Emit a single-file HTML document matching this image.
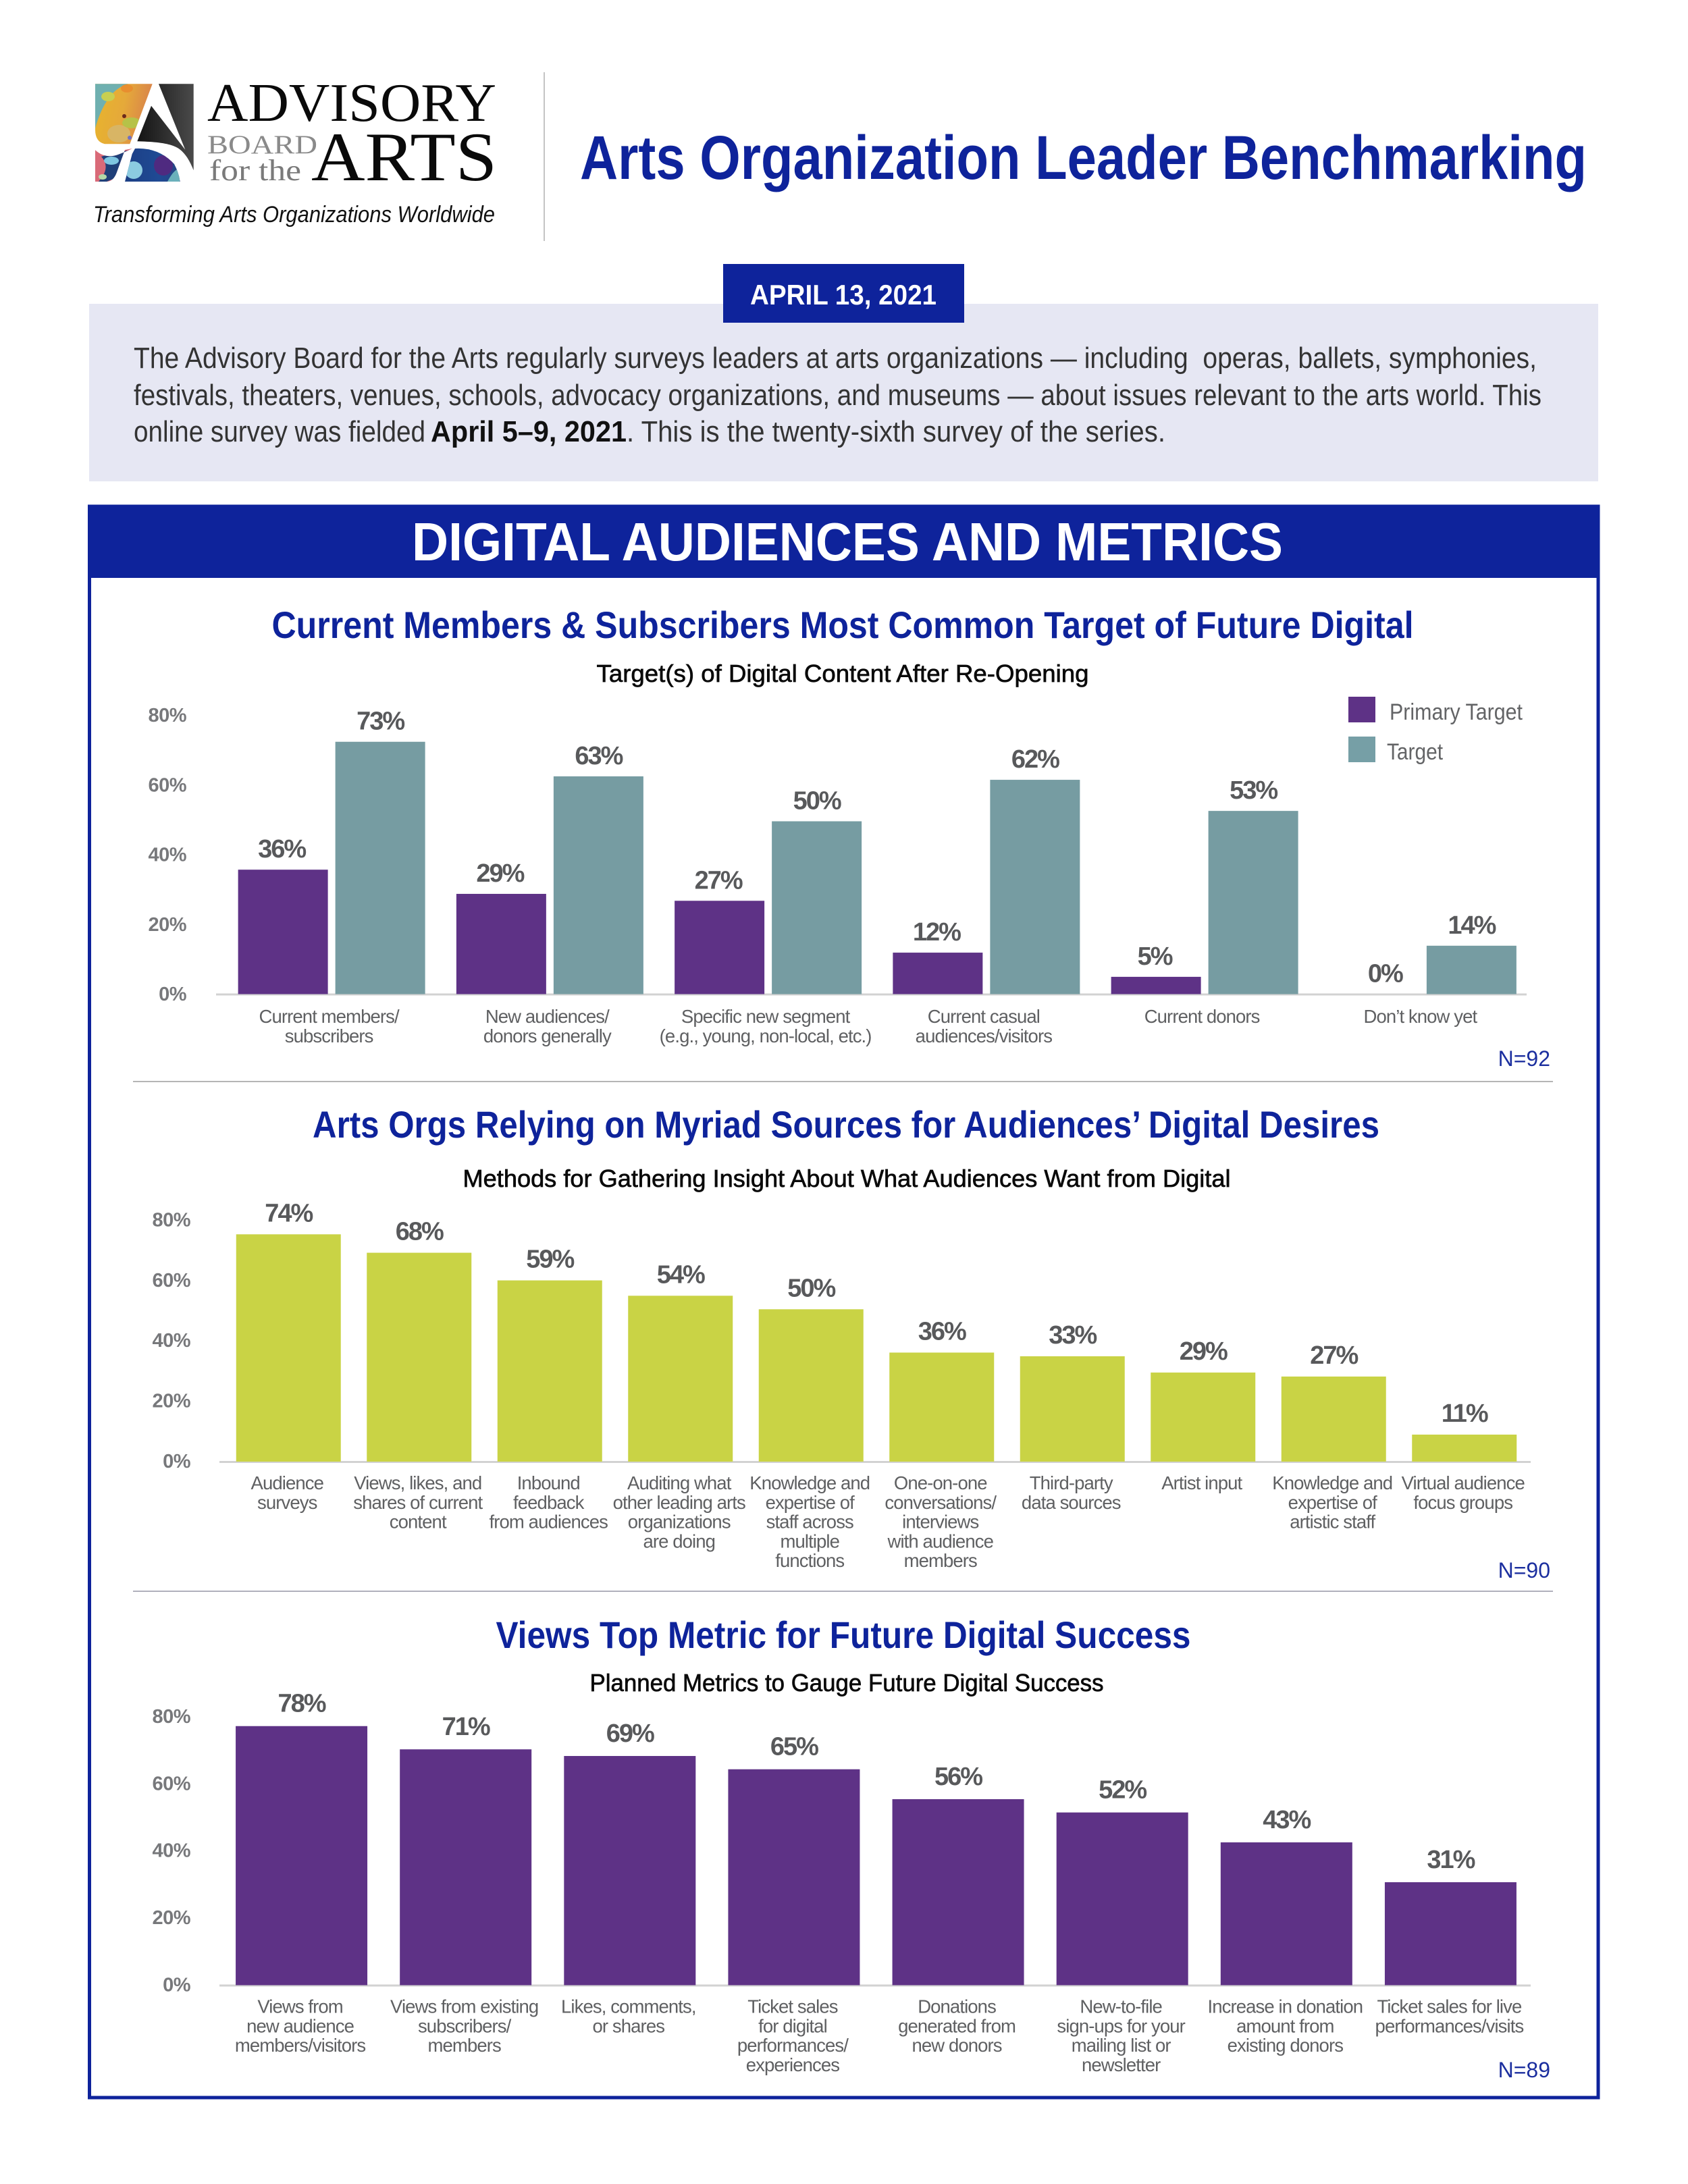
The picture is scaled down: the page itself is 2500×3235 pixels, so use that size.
<!DOCTYPE html>
<html lang="en">
<head>
<meta charset="utf-8">
<title>Arts Organization Leader Benchmarking</title>
<style>
html,body{margin:0;padding:0;background:#fff;}
svg{display:block;font-family:"Liberation Sans",sans-serif;}
.title{font-weight:700;font-size:56px;fill:#0e239b;text-anchor:middle;}
.sub{font-size:36px;fill:#0a0a0a;text-anchor:middle;stroke:#0a0a0a;stroke-width:.7px;}
.n{font-size:32px;fill:#1c2f9f;text-anchor:end;}
.para{font-size:44px;fill:#333;}
.tick{font-size:29px;font-weight:700;fill:#77787b;text-anchor:end;letter-spacing:-.5px;}
.val{font-size:38px;font-weight:700;fill:#58595b;text-anchor:middle;letter-spacing:-2px;}
.cat{font-size:27.5px;fill:#5f6062;text-anchor:middle;letter-spacing:-.9px;}
</style>
</head>
<body>
<svg id="page" xmlns="http://www.w3.org/2000/svg" width="2500" height="3235" viewBox="0 0 2500 3235">
  <defs>
    <linearGradient id="g-top" x1="0" y1="0" x2="1" y2=".2">
      <stop offset="0" stop-color="#e8b52c"/><stop offset=".55" stop-color="#e5a93a"/><stop offset="1" stop-color="#d9834a"/>
    </linearGradient>
    <linearGradient id="g-dome" x1="0" y1="0" x2="1" y2="0">
      <stop offset="0" stop-color="#1c3f85"/><stop offset=".6" stop-color="#1f4a94"/><stop offset="1" stop-color="#28427f"/>
    </linearGradient>
    <linearGradient id="g-dark" x1="1" y1="0" x2="0" y2="0">
      <stop offset="0" stop-color="#4a4a4a"/><stop offset="1" stop-color="#141414"/>
    </linearGradient>
    <clipPath id="clip-top"><path d="M141 124.3H225.7L192.3 213.3H155Q141 210 141 192Z"/></clipPath>
    <clipPath id="clip-left"><path d="M141 222.3Q156 236 175 229Q188 224 196 220L185 222L173 255Q168 269 158 269H141Z"/></clipPath>
    <clipPath id="clip-dome"><path d="M200 220Q235 218 258 243Q265 256 266.7 269H185L195.7 228Z"/></clipPath>
  </defs>

  <rect width="2500" height="3235" fill="#fff"/>

  <g>
    <g>
      <g clip-path="url(#clip-top)">
        <rect x="141" y="124" width="85" height="90" fill="url(#g-top)"/>
        <path d="M141 124H190Q170 130 158 150Q148 165 141 190Z" fill="#6fb0b0"/>
        <ellipse cx="160" cy="143" rx="10" ry="7" fill="#c9cf50"/>
        <ellipse cx="188" cy="131" rx="9" ry="6" fill="#e88e2f"/>
        <ellipse cx="176" cy="198" rx="17" ry="13" fill="#d8b565"/>
        <ellipse cx="195" cy="182" rx="14" ry="8" fill="#b6c248"/>
        <circle cx="192" cy="204" r="3" fill="#6f6fc4"/>
        <circle cx="184" cy="172" r="3" fill="#6b2a1c"/>
      </g>
      <path d="M235 124.3H286.7V252.3C281 238 275 228 266 221C254 212 230 210 203.3 209.3L224 156.7L274.3 221.7Z" fill="url(#g-dark)"/>
      <g clip-path="url(#clip-left)">
        <rect x="141" y="220" width="60" height="50" fill="#d96a78"/>
        <path d="M150 232Q168 226 196 222L175 262L158 269H146Q165 248 150 232Z" fill="#1f3f78"/>
        <ellipse cx="165" cy="238" rx="11" ry="6" fill="#7fc6e0"/>
        <ellipse cx="152" cy="262" rx="6" ry="4" fill="#b3d8a8"/>
      </g>
      <g clip-path="url(#clip-dome)">
        <rect x="185" y="216" width="84" height="54" fill="url(#g-dome)"/>
        <path d="M248 269Q258 250 266 250V269Z" fill="#6bb1bb"/>
        <ellipse cx="198" cy="252" rx="13" ry="13" fill="#8ccbe0"/>
        <ellipse cx="242" cy="245" rx="14" ry="15" fill="#4f2a80"/>
      </g>
    </g>
    <text x="307" y="179" font-family="Liberation Serif" font-size="80" fill="#0a0a0a" textLength="428" lengthAdjust="spacingAndGlyphs">ADVISORY</text>
    <text x="307" y="227" font-family="Liberation Serif" font-size="39" fill="#8a8a8a" textLength="163" lengthAdjust="spacingAndGlyphs">BOARD</text>
    <text x="310" y="267" font-family="Liberation Serif" font-size="44" fill="#7a7a7a" textLength="136" lengthAdjust="spacingAndGlyphs">for the</text>
    <text x="461" y="267" font-family="Liberation Serif" font-size="103" fill="#0a0a0a" textLength="275" lengthAdjust="spacingAndGlyphs">ARTS</text>
    <text x="138" y="329" font-size="34" font-style="italic" fill="#111" textLength="595" lengthAdjust="spacingAndGlyphs">Transforming Arts Organizations Worldwide</text>
  </g>

  <rect x="805" y="107" width="2" height="250" fill="#c4c4c4"/>
  <text x="859" y="265" font-size="92" font-weight="700" fill="#0e239b" textLength="1491" lengthAdjust="spacingAndGlyphs">Arts Organization Leader Benchmarking</text>

  <rect x="132" y="450" width="2235" height="263" fill="#e6e7f3"/>
  <rect x="1071" y="391" width="357" height="87" fill="#0e239b"/>
  <text x="1111" y="451" font-size="42" font-weight="700" fill="#fff" textLength="276" lengthAdjust="spacingAndGlyphs">APRIL 13, 2021</text>

  <g>
    <text class="para" x="198" y="545" textLength="2078" lengthAdjust="spacingAndGlyphs">The Advisory Board for the Arts regularly surveys leaders at arts organizations — including &#160;operas, ballets, symphonies,</text>
    <text class="para" x="198" y="600" textLength="2085" lengthAdjust="spacingAndGlyphs">festivals, theaters, venues, schools, advocacy organizations, and museums — about issues relevant to the arts world. This</text>
    <text class="para" x="198" y="654" textLength="432" lengthAdjust="spacingAndGlyphs">online survey was fielded</text>
    <text class="para" x="638" y="654" font-weight="700" style="fill:#111" textLength="290" lengthAdjust="spacingAndGlyphs">April 5–9, 2021</text>
    <text class="para" x="928" y="654" textLength="798" lengthAdjust="spacingAndGlyphs">. This is the twenty-sixth survey of the series.</text>
  </g>

  <rect x="132.5" y="750" width="2234.5" height="2357" fill="#fff" stroke="#0e239b" stroke-width="5"/>
  <rect x="132" y="749" width="2236" height="107" fill="#0e239b"/>
  <text x="610" y="830" font-size="80" font-weight="700" fill="#fff" textLength="1290" lengthAdjust="spacingAndGlyphs">DIGITAL AUDIENCES AND METRICS</text>

  <text class="title" x="1248" y="945" textLength="1691" lengthAdjust="spacingAndGlyphs">Current Members &amp; Subscribers Most Common Target of Future Digital</text>
  <text class="sub" x="1248" y="1010" textLength="729" lengthAdjust="spacingAndGlyphs">Target(s) of Digital Content After Re-Opening</text>
  <g>
    <rect x="1997" y="1032" width="40" height="38" fill="#5e3286"/>
    <text x="2058" y="1066" font-size="34" fill="#636466" textLength="197" lengthAdjust="spacingAndGlyphs">Primary Target</text>
    <rect x="1997" y="1091" width="40" height="38" fill="#769fa6"/>
    <text x="2054" y="1125" font-size="34" fill="#636466" textLength="83" lengthAdjust="spacingAndGlyphs">Target</text>
  </g>
  <g id="chart1"></g>
  <text class="n" x="2296" y="1579">N=92</text>
  <rect x="197" y="1601" width="2103" height="2" fill="#b5b5b5"/>

  <text class="title" x="1253" y="1685" textLength="1580" lengthAdjust="spacingAndGlyphs">Arts Orgs Relying on Myriad Sources for Audiences’ Digital Desires</text>
  <text class="sub" x="1254" y="1758" textLength="1137" lengthAdjust="spacingAndGlyphs">Methods for Gathering Insight About What Audiences Want from Digital</text>
  <g id="chart2"></g>
  <text class="n" x="2296" y="2337">N=90</text>
  <rect x="197" y="2356" width="2103" height="2" fill="#b0b0bc"/>

  <text class="title" x="1249" y="2441" textLength="1029" lengthAdjust="spacingAndGlyphs">Views Top Metric for Future Digital Success</text>
  <text class="sub" x="1254" y="2505" textLength="761" lengthAdjust="spacingAndGlyphs">Planned Metrics to Gauge Future Digital Success</text>
  <g id="chart3"></g>
  <text class="n" x="2296" y="3077">N=89</text>
</svg>

<script>
// Shared y-axis ticks
const tickValues = [0, 20, 40, 60, 80];
const tickLabels = ['0%', '20%', '40%', '60%', '80%'];

// Chart 1: digital content targets
const targetCategories = [
  ['Current members/', 'subscribers'],
  ['New audiences/', 'donors generally'],
  ['Specific new segment', '(e.g., young, non-local, etc.)'],
  ['Current casual', 'audiences/visitors'],
  ['Current donors'],
  ['Don’t know yet']
];
const primaryTargetValues = [36, 29, 27, 12, 5, 0];
const targetValues = [73, 63, 50, 62, 53, 14];

// Chart 2: insight-gathering methods
const methodCategories = [
  ['Audience', 'surveys'],
  ['Views, likes, and', 'shares of current', 'content'],
  ['Inbound', 'feedback', 'from audiences'],
  ['Auditing what', 'other leading arts', 'organizations', 'are doing'],
  ['Knowledge and', 'expertise of', 'staff across', 'multiple', 'functions'],
  ['One-on-one', 'conversations/', 'interviews', 'with audience', 'members'],
  ['Third-party', 'data sources'],
  ['Artist input'],
  ['Knowledge and', 'expertise of', 'artistic staff'],
  ['Virtual audience', 'focus groups']
];
// Bar heights as drawn in the picture (some differ slightly from the printed value)
const methodValues = [74, 68, 59, 54, 49.6, 35.5, 34.3, 29, 27.7, 8.8];
const methodPrinted = ['74%', '68%', '59%', '54%', '50%', '36%', '33%', '29%', '27%', '11%'];

// Chart 3: planned success metrics
const metricCategories = [
  ['Views from', 'new audience', 'members/visitors'],
  ['Views from existing', 'subscribers/', 'members'],
  ['Likes, comments,', 'or shares'],
  ['Ticket sales', 'for digital', 'performances/', 'experiences'],
  ['Donations', 'generated from', 'new donors'],
  ['New-to-file', 'sign-ups for your', 'mailing list or', 'newsletter'],
  ['Increase in donation', 'amount from', 'existing donors'],
  ['Ticket sales for live', 'performances/visits']
];
const metricValues = [78, 71, 69, 65, 56, 52, 43, 31];

const SVGNS = 'http://www.w3.org/2000/svg';
const PURPLE = '#5e3286', TEAL = '#769ca2', OLIVE = '#c9d345';

function node(parent, tag, attrs, text) {
  const el = document.createElementNS(SVGNS, tag);
  for (const k in attrs) el.setAttribute(k, attrs[k]);
  if (text !== undefined) el.textContent = text;
  parent.appendChild(el);
  return el;
}

function slug(lines) {
  return lines.join(' ').toLowerCase().replace(/[^a-z0-9]+/g, '-').replace(/^-|-$/g, '');
}

function drawFrame(root, cfg) {
  const axis = node(root, 'rect', {x: cfg.axisX0, y: cfg.base - 1, width: cfg.axisX1 - cfg.axisX0, height: 3, fill: '#d2d2d2'});
  
  
  tickValues.forEach(function (t, i) {
    const y = cfg.tickBase - t * cfg.tickUnit;
    const label = node(root, 'text', {class: 'tick', x: cfg.tickX, y: y + 10}, tickLabels[i]);
    
    
  });
}

function drawBar(root, x, w, value, fill, cfg) {
  const h = value * cfg.unit;
  const bar = node(root, 'rect', {x: x, y: cfg.base - h, width: w, height: h, fill: fill});
  
  
}

function drawValue(root, x, value, text, cfg) {
  const label = node(root, 'text', {class: 'val', x: x, y: cfg.base - value * cfg.unit - cfg.valueGap}, text);
  
  
}

function drawCategory(root, cx, lines, cfg) {
  const g = node(root, 'g', {});
  
  
  lines.forEach(function (line, j) {
    node(g, 'text', {class: 'cat', x: cx, y: cfg.catY + j * 28.75}, line);
  });
}

function drawGrouped(root, cats, seriesA, seriesB, cfg) {
  drawFrame(root, cfg);
  const step = (cfg.x1 - cfg.x0) / cats.length;
  cats.forEach(function (lines, i) {
    const c = cfg.x0 + step * (i + .5);
    const w = cfg.barWidth, gap = cfg.barGap / 2;
    if (seriesA[i] > 0) drawBar(root, c - gap - w, w, seriesA[i], PURPLE, cfg);
    drawBar(root, c + gap, w, seriesB[i], TEAL, cfg);
    const shift = seriesA[i] === 0 ? 16 : -2;
    drawValue(root, c - gap - w / 2 + shift, seriesA[i], seriesA[i] + '%', cfg);
    drawValue(root, c + gap + w / 2, seriesB[i], seriesB[i] + '%', cfg);
    drawCategory(root, c - 4, lines, cfg);
  });
}

function drawSimple(root, cats, values, printed, fill, cfg) {
  drawFrame(root, cfg);
  const step = (cfg.x1 - cfg.x0) / cats.length;
  cats.forEach(function (lines, i) {
    const c = cfg.x0 + step * (i + .5);
    drawBar(root, c - cfg.barWidth / 2, cfg.barWidth, values[i], fill, cfg);
    drawValue(root, c, values[i], printed[i], cfg);
    drawCategory(root, c - 2, lines, cfg);
  });
}

drawGrouped(document.getElementById('chart1'), targetCategories, primaryTargetValues, targetValues, {
  x0: 329.5, x1: 2269, base: 1472.5, unit: 5.12, axisX0: 320, axisX1: 2261,
  tickBase: 1472, tickUnit: 5.16, tickX: 276, valueGap: 18, barWidth: 133, barGap: 11, catY: 1515
});

drawSimple(document.getElementById('chart2'), methodCategories, methodValues, methodPrinted, OLIVE, {
  x0: 330.5, x1: 2265.5, base: 2165, unit: 4.55, axisX0: 325, axisX1: 2267,
  tickBase: 2164, tickUnit: 4.47, tickX: 282, valueGap: 19, barWidth: 155, catY: 2206
});

drawSimple(document.getElementById('chart3'), metricCategories, metricValues, metricValues.map(function (v) { return v + '%'; }), PURPLE, {
  x0: 325, x1: 2270, base: 2940.5, unit: 4.92, axisX0: 325, axisX1: 2267,
  tickBase: 2939.5, tickUnit: 4.97, tickX: 282, valueGap: 21, barWidth: 195, catY: 2981.5
});
</script>
</body>
</html>
